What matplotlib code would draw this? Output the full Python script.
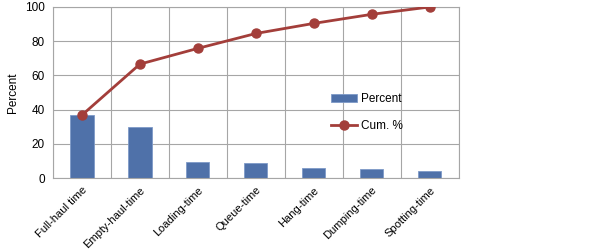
import numpy as np
import matplotlib
matplotlib.use("Agg")
import matplotlib.pyplot as plt

categorias = ["Full-haul time", "Empty-haul-time", "Loading-time", "Queue-time",
              "Hang-time", "Dumping-time", "Spotting-time"]
porcentaje = [36.8, 29.8, 9.2, 8.7, 5.9, 5.3, 4.3]
acumulado = [36.8, 66.6, 75.8, 84.5, 90.4, 95.7, 100.0]

plt.rcParams['font.family'] = ['Liberation Sans', 'DejaVu Sans']

fig = plt.figure(figsize=(6.02, 2.49), dpi=100)
ax = fig.add_axes([0.088, 0.285, 0.674, 0.687])

x = np.arange(len(categorias))
barras = ax.bar(x, porcentaje, width=0.4, color="#4F71A9", edgecolor="#7E9AC8",
                linewidth=0.6, label="Percent", zorder=2)
linea, = ax.plot(x, acumulado, color="#A33E3A", linewidth=2, marker="o",
                 markersize=6.5, label="Cum. %", zorder=3)

ax.set_xlim(-0.5, len(categorias) - 0.5)
ax.set_ylim(0, 100)
ax.set_yticks([0, 20, 40, 60, 80, 100])
ax.set_xticks(x)
ax.set_xticklabels(categorias, rotation=45, ha="right", rotation_mode="anchor",
                   fontsize=8)
ax.tick_params(axis="y", labelsize=8.5, length=0, pad=6)
ax.tick_params(axis="x", length=0, pad=5)

# rejilla en los límites de cada categoría
for b in np.arange(-0.5, len(categorias), 1.0):
    ax.axvline(b, color="#A6A6A6", linewidth=0.8, zorder=1)
ax.yaxis.grid(True, color="#A6A6A6", linewidth=0.8, zorder=1)
ax.set_axisbelow(True)
for s in ax.spines.values():
    s.set_color("#A6A6A6")

ax.set_ylabel("Percent", fontsize=8.5, labelpad=4)

ax.legend([barras, linea], ["Percent", "Cum. %"], loc="upper left",
          bbox_to_anchor=(0.66, 0.56), frameon=False, fontsize=8.5,
          handlelength=2.2, labelspacing=1.3, handletextpad=0.3)

fig.savefig("out.png", dpi=100)
